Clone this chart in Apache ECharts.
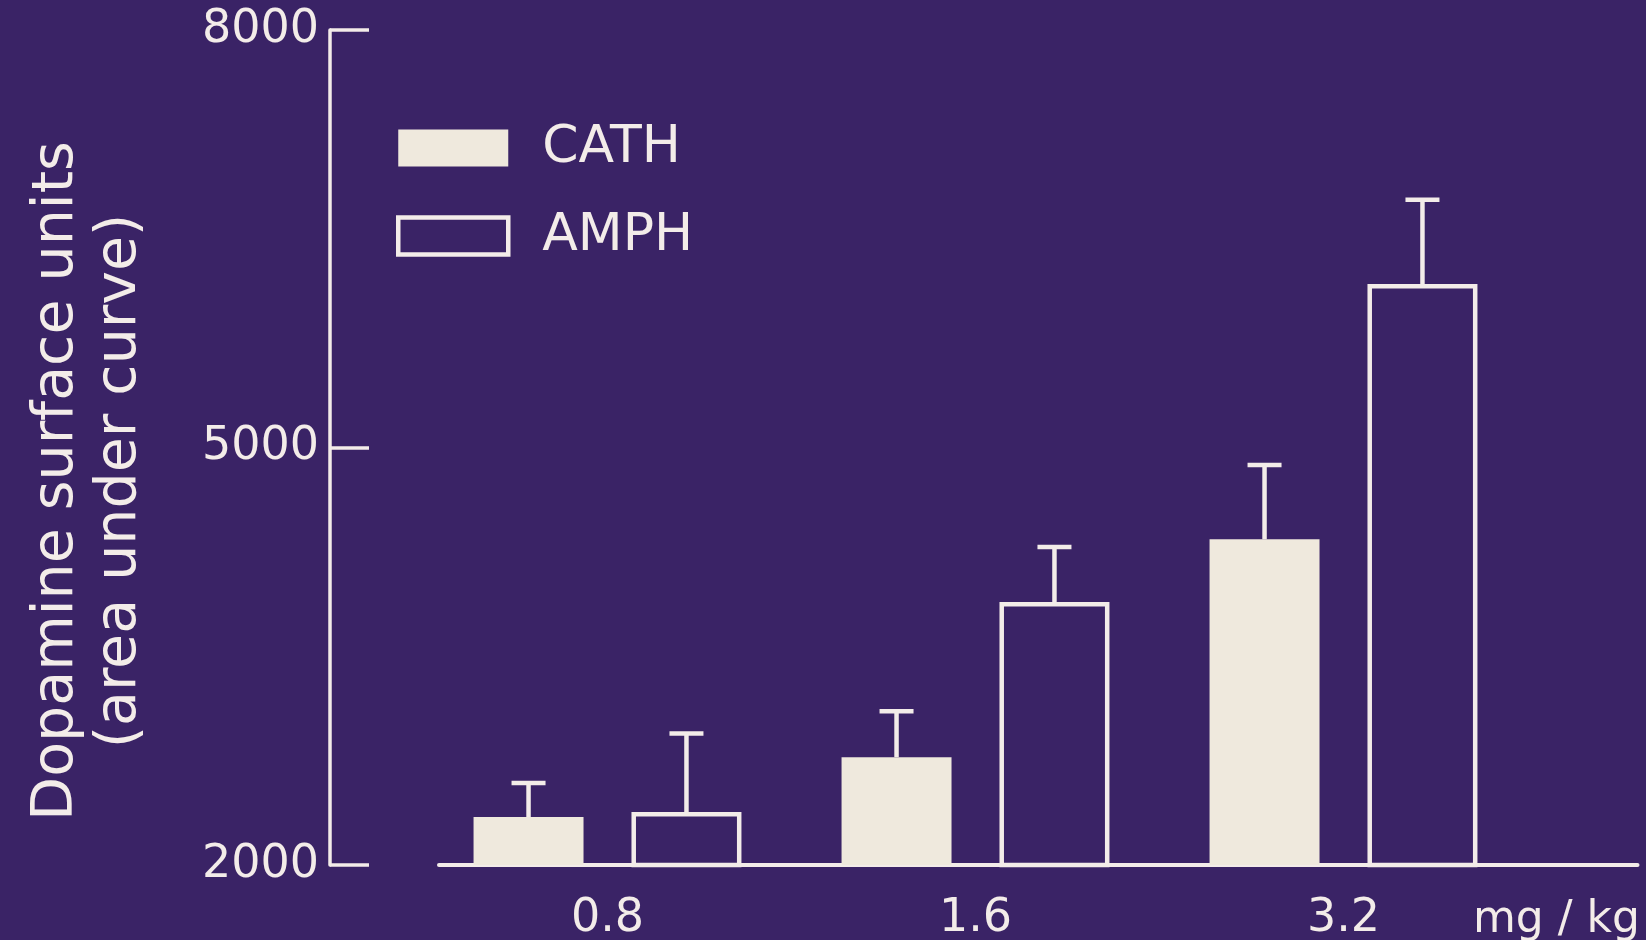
<!DOCTYPE html>
<html>
<head>
<meta charset="utf-8">
<script src="https://cdn.jsdelivr.net/npm/echarts@6/dist/echarts.min.js"></script>
<style>
  html, body { margin: 0; padding: 0; background: #3a2366; }
  #chart { width: 1646px; height: 940px; }
</style>
</head>
<body>
<div id="chart"></div>
<script>
// Dose groups (mg/kg)
const doses = ['0.8', '1.6', '3.2'];
// Dopamine surface units, mean and SEM per dose
const cathMean = [2345, 2775, 4340];
const cathSem = [245, 330, 535];
const amphMean = [2380, 3890, 6175];
const amphSem = [565, 395, 605];
// Y axis range
const yMin = 2000;
const yMax = 8000;
const yStep = 3000;

const BG = '#3a2366';
const INK = '#f3ece9';
const FILL = '#efe9dd';
const FONT = 'DejaVu Sans';

const BAR_GAP = 0.436;
const CAT_GAP = 0.272;

// Error whisker drawn above a bar; side -1 = left bar of the pair, +1 = right bar
function whisker(side) {
  return function (params, api) {
    const idx = api.value(0);
    const base = api.coord([idx, api.value(1)]);
    const top = api.coord([idx, api.value(2)]);
    const band = api.size([1, 0])[0];
    const w = band * (1 - CAT_GAP) / (2 + BAR_GAP);
    const cx = base[0] + side * w * (1 + BAR_GAP) / 2;
    const capHalf = 17;
    const style = { stroke: INK, lineWidth: 4.5, lineCap: 'butt' };
    return {
      type: 'group',
      children: [
        { type: 'line', shape: { x1: cx, y1: base[1], x2: cx, y2: top[1] }, style: style },
        { type: 'line', shape: { x1: cx - capHalf, y1: top[1], x2: cx + capHalf, y2: top[1] }, style: style }
      ]
    };
  };
}

const chart = echarts.init(document.getElementById('chart'), null, { renderer: 'canvas' });

chart.setOption({
  backgroundColor: BG,
  animation: false,
  textStyle: { fontFamily: FONT, color: INK },
  title: {
    text: 'mg / kg',
    left: 1473,
    top: 899,
    padding: 0,
    textStyle: { fontFamily: FONT, fontSize: 44, lineHeight: 44, fontWeight: 'normal', color: INK }
  },
  legend: {
    orient: 'vertical',
    left: 396,
    top: 122,
    padding: 0,
    itemWidth: 110,
    itemHeight: 37,
    itemGap: 36,
    selectedMode: false,
    icon: 'rect',
    data: [
      { name: 'CATH' },
      { name: 'AMPH', itemStyle: { color: 'transparent', borderColor: INK, borderWidth: 4.5 } }
    ],
    textStyle: { fontFamily: FONT, fontSize: 52, color: INK, padding: [0, 0, 0, 29] }
  },
  grid: [
    { left: 423.5, right: 118.5, top: 30, bottom: 75, outerBoundsMode: 'none', containLabel: false },
    { left: 439, right: 8.5, top: 30, bottom: 75, outerBoundsMode: 'none', containLabel: false }
  ],
  xAxis: [
    {
      type: 'category',
      gridIndex: 0,
      data: doses,
      axisLine: { show: false },
      axisTick: { show: false },
      axisLabel: { fontFamily: FONT, fontSize: 46, lineHeight: 46, color: INK, margin: 31 }
    },
    {
      type: 'value',
      gridIndex: 1,
      min: 0,
      max: 1,
      axisLine: { show: true, lineStyle: { color: INK, width: 4 } },
      axisTick: { show: false },
      axisLabel: { show: false },
      splitLine: { show: false }
    }
  ],
  yAxis: [
    {
      type: 'value',
      gridIndex: 0,
      min: yMin,
      max: yMax,
      interval: yStep,
      offset: 93.5,
      name: 'Dopamine surface units\n(area under curve)',
      nameLocation: 'middle',
      nameGap: 178,
      nameMoveOverlap: false,
      nameTextStyle: { fontFamily: FONT, fontSize: 57, lineHeight: 63, color: INK, padding: [0, 67, 0, 0] },
      axisLine: { show: true, lineStyle: { color: INK, width: 3.5 } },
      axisTick: { show: true, inside: true, length: 39, lineStyle: { color: INK, width: 3.5 } },
      axisLabel: {
        fontFamily: FONT, fontSize: 46, lineHeight: 46, color: INK, margin: 11, padding: [12, 0, 0, 0],
        formatter: (v) => String(v)
      },
      splitLine: { show: false }
    },
    {
      type: 'value',
      gridIndex: 1,
      show: false,
      min: 0,
      max: 1
    }
  ],
  series: [
    {
      name: 'CATH',
      type: 'bar',
      xAxisIndex: 0,
      yAxisIndex: 0,
      data: cathMean,
      barGap: (BAR_GAP * 100) + '%',
      barCategoryGap: (CAT_GAP * 100) + '%',
      itemStyle: { color: FILL, borderWidth: 0 },
      emphasis: { disabled: true }
    },
    {
      name: 'AMPH',
      type: 'bar',
      xAxisIndex: 0,
      yAxisIndex: 0,
      data: amphMean,
      barGap: (BAR_GAP * 100) + '%',
      barCategoryGap: (CAT_GAP * 100) + '%',
      itemStyle: { color: 'transparent', borderColor: INK, borderWidth: 4.5 },
      emphasis: { disabled: true }
    },
    {
      name: 'CATH SEM',
      type: 'custom',
      xAxisIndex: 0,
      yAxisIndex: 0,
      renderItem: whisker(-1),
      data: cathMean.map((m, i) => [i, m, m + cathSem[i]]),
      z: 3,
      silent: true
    },
    {
      name: 'AMPH SEM',
      type: 'custom',
      xAxisIndex: 0,
      yAxisIndex: 0,
      renderItem: whisker(1),
      data: amphMean.map((m, i) => [i, m, m + amphSem[i]]),
      z: 3,
      silent: true
    }
  ]
});
</script>
</body>
</html>
